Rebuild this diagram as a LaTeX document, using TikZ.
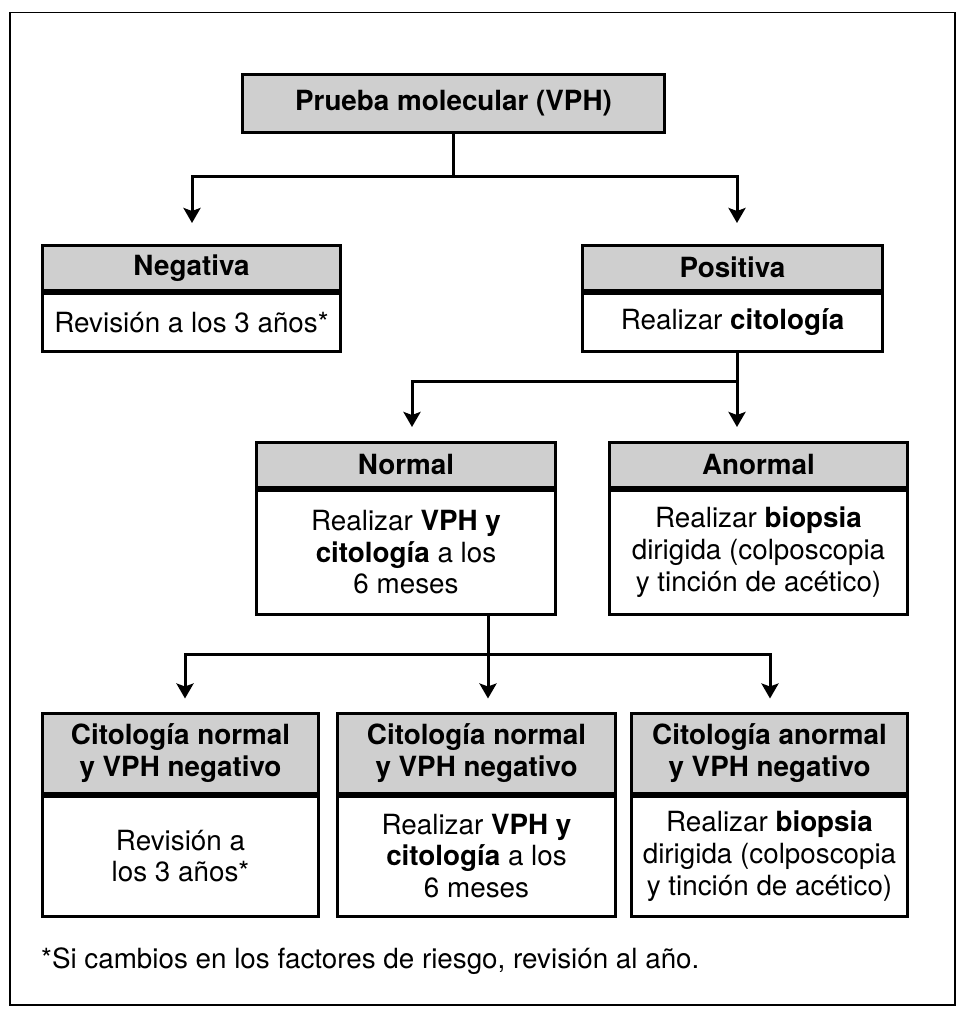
\documentclass[tikz,border=0pt]{standalone}
\usepackage{fontspec}
\setmainfont{TeX Gyre Heros}
\usetikzlibrary{arrows.meta,calc}
\definecolor{hdr}{RGB}{207,207,207}
\begin{document}
\begin{tikzpicture}[x=1pt,y=-1pt,
  every node/.style={font=\fontsize{27.8}{31.7}\selectfont, inner sep=0pt, align=center},
  head/.style={draw, line width=3pt, fill=hdr, font=\fontsize{27.8}{31.7}\selectfont\bfseries, anchor=north},
  body/.style={draw, line width=3pt, fill=white, anchor=north},
  conn/.style={line width=3pt},
  arr/.style={conn, -{Stealth[length=15pt,width=17pt,inset=3pt]}},
]
\useasboundingbox (0,0) rectangle (966,1017);
\draw[line width=1.5pt] (10,12.5) rectangle (955,1005);

% top
\node[head, anchor=center, minimum width=422pt, minimum height=58pt] (top) at (453.5,103.5) {Prueba molecular (VPH)};

% level 1
\node[head, minimum width=298pt, minimum height=45.5pt] (negH) at (191.5,243.5) {Negativa};
\node[body, minimum width=298pt, minimum height=57.5pt] (negB) at (negH.south) {Revisión a los 3 años*};
\node[head, minimum width=300pt, minimum height=45.5pt] (posH) at (732.5,243.5) {Positiva};
\node[body, minimum width=300pt, minimum height=57.5pt] (posB) at (posH.south) {Realizar \textbf{citología}};

% level 2
\node[head, minimum width=299pt, minimum height=45.5pt] (norH) at (406,440.5) {Normal};
\node[body, minimum width=299pt, minimum height=123.5pt] (norB) at (norH.south) {Realizar \textbf{VPH y}\\\textbf{citología} a los\\6 meses};
\node[head, minimum width=298pt, minimum height=45.5pt] (anoH) at (758.5,440.5) {Anormal};
\node[body, minimum width=298pt, minimum height=123.5pt] (anoB) at (anoH.south) {Realizar \textbf{biopsia}\\dirigida (colposcopia\\y tinción de acético)};

% level 3
\node[head, minimum width=276pt, minimum height=80pt] (c1H) at (180.5,711.5) {Citología normal\\y VPH negativo};
\node[body, minimum width=276pt, minimum height=120pt] (c1B) at (c1H.south) {Revisión a\\los 3 años*};
\node[head, minimum width=278pt, minimum height=80pt] (c2H) at (476.5,711.5) {Citología normal\\y VPH negativo};
\node[body, minimum width=278pt, minimum height=120pt] (c2B) at (c2H.south) {Realizar \textbf{VPH y}\\\textbf{citología} a los\\6 meses};
\node[head, minimum width=276pt, minimum height=80pt] (c3H) at (769.5,711.5) {Citología anormal\\y VPH negativo};
\node[body, minimum width=276pt, minimum height=120pt] (c3B) at (c3H.south) {Realizar \textbf{biopsia}\\dirigida (colposcopia\\y tinción de acético)};

% footnote
\node[anchor=base west] (fn) at (41,968) {*Si cambios en los factores de riesgo, revisión al año.};

% connectors level 1
\coordinate (j1) at (453.5,176);
\coordinate (j1l) at (192,176);
\coordinate (j1r) at (737,176);
\draw[conn] (top.south) -- (j1);
\draw[arr, shorten >=20.5pt] (j1) -- (j1l) -- (j1l |- negH.north);
\draw[arr, shorten >=20.5pt] (j1) -- (j1r) -- (j1r |- posH.north);

% connectors level 2
\coordinate (j2) at (737,381);
\coordinate (j2l) at (412,381);
\draw[conn] (posB.south -| j2) -- (j2);
\draw[arr, shorten >=13.5pt] (j2) -- (j2l) -- (j2l |- norH.north);
\draw[arr, shorten >=13.5pt] (j2) -- (j2 |- anoH.north);

% connectors level 3
\coordinate (j3) at (488,654);
\coordinate (j3l) at (185,654);
\coordinate (j3r) at (770,654);
\draw[conn] (norB.south -| j3) -- (j3);
\draw[arr, shorten >=13pt] (j3) -- (j3l) -- (j3l |- c1H.north);
\draw[arr, shorten >=13pt] (j3) -- (j3 |- c2H.north);
\draw[arr, shorten >=13pt] (j3) -- (j3r) -- (j3r |- c3H.north);
\end{tikzpicture}
\end{document}
